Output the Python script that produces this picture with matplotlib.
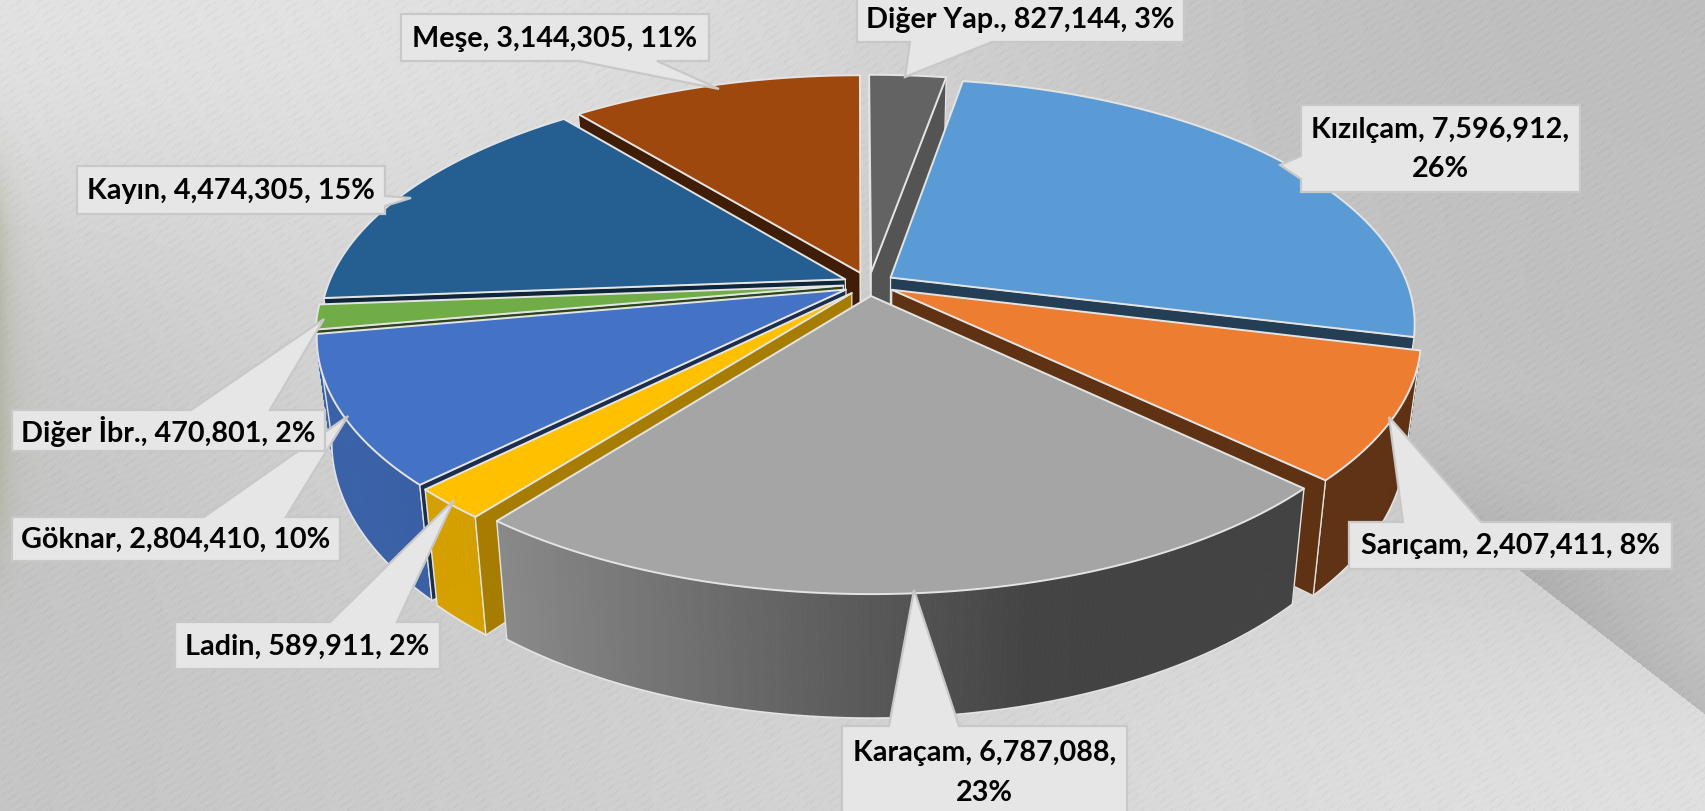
import numpy as np
import matplotlib
matplotlib.use("Agg")
import matplotlib.pyplot as plt
from matplotlib.patches import Polygon

# ---- data ----
names = ["Kızılçam", "Sarıçam", "Karaçam", "Ladin", "Göknar", "Diğer İbr.", "Kayın", "Meşe", "Diğer Yap."]
values = [7596912, 2407411, 6787088, 589911, 2804410, 470801, 4474305, 3144305, 827144]
colors = ["#5B9BD5", "#ED7D31", "#A5A5A5", "#FFC000", "#4472C4", "#70AD47", "#255E91", "#9E480E", "#636363"]
cut_shades = [.40, .40, .40, .65, .40, .40, .40, .40, .85]

# ---- label layout (box l, t, r, b, pointer tip, pointer base) ----
boxes = {
    "Kızılçam": (1301, 106, 1580, 193, (1280, 166), ("l", 157, 180)),
    "Sarıçam": (1349, 523, 1672, 570, (1389, 418), ("t", 1403, 1481)),
    "Karaçam": (842, 727, 1127, 830, (914, 591), ("t", 889, 959)),
    "Ladin": (175, 623, 440, 670, (454, 501), ("t", 330, 397)),
    "Göknar": (12, 518, 340, 562, (348, 417), ("t", 204, 286)),
    "Diğer İbr.": (12, 411, 325, 452, (324, 320), ("t", 191, 270)),
    "Kayın": (77, 167, 385, 215, (411, 199), ("r", 197, 207)),
    "Meşe": (401, 15, 709, 62, (719, 90), ("b", 579, 657)),
    "Diğer Yap.": (857, -10, 1184, 43, (905, 78), ("b", 910, 992)),
}
label_order = ["Göknar", "Diğer İbr.", "Kayın", "Meşe", "Diğer Yap.", "Kızılçam", "Sarıçam", "Karaçam", "Ladin"]

# ---- projection of the tilted pie ----
CX, CY = 869, 285
R, A = 517, 238
P, H, CONV = 0.185, 100, 0.027
EXPLODE = 0.05
START = 10.0


def project(xn, yn, down=False):
    w = 1 + P * yn
    x = CX + R * xn / w
    y = CY - A * yn / w
    if down:
        x = CX + (x - CX) * (1 - CONV)
        y = y + H / w
    return x, y


def shade_for(theta):
    s = np.sin(np.radians(theta))
    return np.interp(s, [-1, -0.6, -0.05, 0.25, 1], [.87, .83, .56, .41, .40])


def scaled(color, f):
    rgb = np.array(matplotlib.colors.to_rgb(color))
    return tuple(np.clip(rgb * f, 0, 1))


fig = plt.figure(figsize=(17.06, 8.12), dpi=100)
ax = fig.add_axes([0, 0, 1, 1])

# ---- wall background ----
gray = np.array([
    [226, 226, 224, 218, 208, 198, 192, 190],
    [214, 218, 216, 210, 204, 198, 194, 192],
    [202, 212, 212, 206, 204, 200, 194, 190],
    [198, 208, 210, 208, 206, 206, 200, 194],
    [196, 204, 206, 208, 210, 214, 214, 212],
    [198, 202, 206, 210, 214, 218, 222, 224],
], dtype=float)
ax.imshow(gray, cmap="gray", vmin=0, vmax=255, extent=(0, 1706, 812, 0),
          interpolation="bicubic", aspect="auto", zorder=0)
yy, xx = np.mgrid[0:812, 0:1706]
# darker band on the far side of the diagonal wall edge
dist = ((xx - 1522) * 143 - (yy - 573) * 184) / np.hypot(143, 184)
over = np.zeros((812, 1706, 4))
fade = np.clip((yy - 380) / 180.0, 0, 1)
over[..., 3] = np.where(dist > 0, .16 * fade * np.exp(-dist / 130), 0)
ax.imshow(over, extent=(0, 1706, 812, 0), interpolation="bilinear", aspect="auto", zorder=0.1)
# fine plaster grain
tex = (np.sin((xx * .55 + yy * .83) * .9) * np.sin((xx * .31 - yy * .17) * .37)
       + .6 * np.sin((xx * .81 + yy * .59) * 1.7 + 1.3) * np.sin((xx * .09 + yy * .27) * .71))
tex_rgba = np.zeros((812, 1706, 4))
tex_rgba[..., :3] = (tex[..., None] > 0)
tex_rgba[..., 3] = np.abs(tex) * .025
ax.imshow(tex_rgba, extent=(0, 1706, 812, 0), interpolation="bilinear", aspect="auto", zorder=0.2)
# faint green shadow at the left edge
green = np.zeros((812, 1706, 4))
green[..., 0], green[..., 1], green[..., 2] = .64, .66, .56
green[..., 3] = .55 * np.exp(-xx / 14.0) * np.exp(-((yy - 370) / 190.0) ** 4)
ax.imshow(green, extent=(0, 1706, 812, 0), interpolation="bilinear", aspect="auto", zorder=0.3)
ax.set_xlim(0, 1706)
ax.set_ylim(812, 0)
ax.axis("off")

# ---- pie ----
total = sum(values)
EDGE = "#E4E4E4"
spans = []
a0 = START
for v in values:
    a1 = a0 + v / total * 360
    spans.append((a0, a1))
    a0 = a1

order = sorted(range(len(values)), key=lambda i: -np.cos(np.radians(sum(spans[i]) / 2)))
z = 1.0
for i in order:
    t0, t1 = spans[i]
    mid = np.radians((t0 + t1) / 2)
    ox, oy = EXPLODE * np.sin(mid), EXPLODE * np.cos(mid)
    th = np.radians(np.linspace(t0, t1, max(8, int((t1 - t0) * 2))))
    rx, ry = ox + np.sin(th), oy + np.cos(th)
    # outer wall, only the part that faces the viewer
    for k in range(len(th) - 1):
        m = (th[k] + th[k + 1]) / 2
        if np.cos(m) >= P * .9:
            continue
        quad = [project(rx[k], ry[k]), project(rx[k + 1], ry[k + 1]),
                project(rx[k + 1], ry[k + 1], True), project(rx[k], ry[k], True)]
        c = scaled(colors[i], shade_for(np.degrees(m)))
        ax.add_patch(Polygon(quad, closed=True, fc=c, ec=c, lw=.6, zorder=z))
    z += .01
    vis = np.cos(th) < P * .9
    if vis.any():
        bx, by = zip(*[project(a, b, True) for a, b in zip(rx[vis], ry[vis])])
        ax.plot(bx, by, color=EDGE, lw=1.3, zorder=z, solid_capstyle="round")
        for end in (0, len(th) - 1):
            if vis[end]:
                ax.plot(*zip(project(rx[end], ry[end]), project(rx[end], ry[end], True)),
                        color=EDGE, lw=1.0, zorder=z)
    z += .01
    # cut faces
    for edge_t, visible in ((t0, np.sin(np.radians(t0)) < 0.02), (t1, np.sin(np.radians(t1)) > -0.02)):
        if not visible:
            continue
        e = np.radians(edge_t)
        ex, ey = ox + np.sin(e), oy + np.cos(e)
        pts = [project(ox, oy), project(ex, ey), project(ex, ey, True), project(ox, oy, True)]
        ax.add_patch(Polygon(pts, closed=True, fc=scaled(colors[i], cut_shades[i]), ec=EDGE, lw=.9, zorder=z))
        z += .01
    # top face
    top = [project(ox, oy)] + [project(a, b) for a, b in zip(rx, ry)]
    ax.add_patch(Polygon(top, closed=True, fc=colors[i], ec=EDGE, lw=1.4, joinstyle="round", zorder=z))
    z += .01


# ---- callout labels ----
def callout(l, t, r, b, tip, base):
    side, b0, b1 = base
    if side == "t":
        return [(l, t), (b0, t), tip, (b1, t), (r, t), (r, b), (l, b)]
    if side == "b":
        return [(l, t), (r, t), (r, b), (b1, b), tip, (b0, b), (l, b)]
    if side == "r":
        return [(l, t), (r, t), (r, b0), tip, (r, b1), (r, b), (l, b)]
    return [(l, t), (r, t), (r, b), (l, b), (l, b1), tip, (l, b0)]


plt.rcParams["font.family"] = ["Lato", "DejaVu Sans"]
z = 20
wrapped = {"Kızılçam", "Karaçam"}
for nm in label_order:
    i = names.index(nm)
    l, t, r, b, tip, base = boxes[nm]
    ax.add_patch(Polygon(callout(l, t, r, b, tip, base), closed=True, fc="#E6E6E6", ec="#C8C8C8",
                         lw=1.6, joinstyle="miter", zorder=z))
    pct = round(values[i] / total * 100)
    sep = ",\n" if nm in wrapped else ", "
    s = f"{nm}, {values[i]:,}{sep}{pct}%"
    if nm == "Karaçam":
        ty = 773
    elif nm == "Diğer Yap.":
        ty = 20
    else:
        ty = (t + b) / 2
    ax.text((l + r) / 2, ty, s, ha="center", va="center", multialignment="center",
            fontsize=20.7, fontweight="bold", color="#000000", linespacing=1.62, zorder=z + .5)
    z += 1

fig.savefig("out.png", dpi=100)
